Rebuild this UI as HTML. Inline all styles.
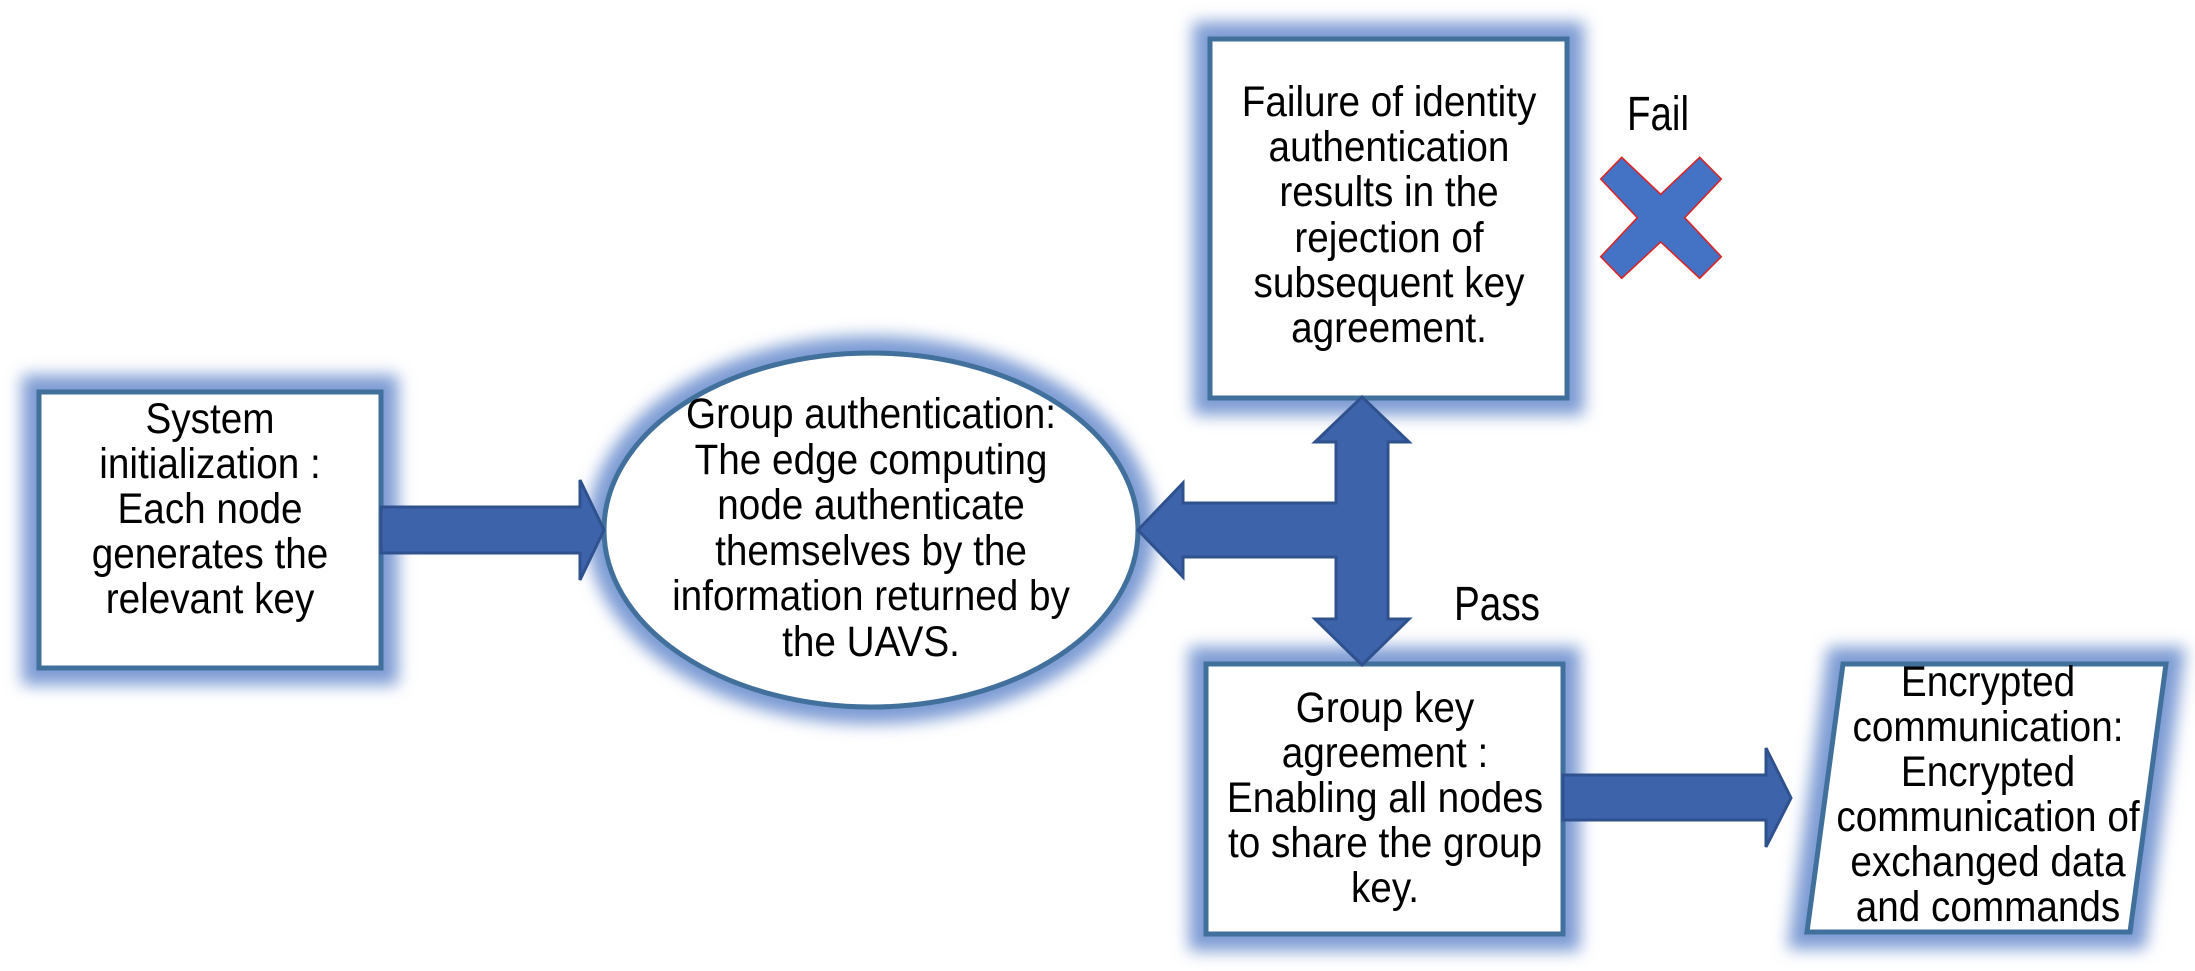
<!DOCTYPE html>
<html><head><meta charset="utf-8"><style>
html,body{margin:0;padding:0;background:#fff;}
svg{display:block;}
text{font-family:"Liberation Sans",sans-serif;font-size:43px;fill:#000;text-anchor:middle;}
</style></head><body>
<svg width="2195" height="971" viewBox="0 0 2195 971" xmlns="http://www.w3.org/2000/svg">
<defs>
<filter id="g" x="-20%" y="-20%" width="140%" height="140%"><feGaussianBlur stdDeviation="8"/></filter>
</defs>
<g filter="url(#g)" fill="none" stroke="#7d9bd4" stroke-width="34">
<rect x="39" y="392" width="342" height="276"/>
<ellipse cx="871" cy="530" rx="267" ry="177"/>
<rect x="1210" y="39" width="357" height="359"/>
<rect x="1206" y="664" width="357" height="270"/>
<polygon points="1843,664 2166,664 2130,932 1807,932"/>
</g>
<g fill="#fff" stroke="#41709c" stroke-width="5">
<rect x="39" y="392" width="342" height="276"/>
<ellipse cx="871" cy="530" rx="267" ry="177"/>
<rect x="1210" y="39" width="357" height="359"/>
<rect x="1206" y="664" width="357" height="270"/>
<polygon points="1843,664 2166,664 2130,932 1807,932"/>
</g>
<g fill="#3d63ab" stroke="#2f528f" stroke-width="3">
<polygon points="381,507 580,507 580,480 604,530 580,580 580,553 381,553"/>
<polygon points="1362,397 1409,442 1388,442 1388,619 1409,619 1362,665 1315,619 1336,619 1336,557 1183,557 1183,577 1138,530 1183,483 1183,503 1336,503 1336,442 1315,442"/>
<polygon points="1563,775 1766,775 1766,748 1791,798 1766,847 1766,820 1563,820"/>
</g>
<polygon points="1600.7,179 1621.7,157.3 1660.7,194.3 1699.7,157.3 1721.3,179 1684.7,217.7 1721.3,256.7 1699.7,278.3 1660.7,242 1621.7,278.3 1600.7,256.7 1637.3,217.7" fill="#4472c4" stroke="#e02020" stroke-width="1.5"/>
<text x="1658" y="130" style="font-size:48px" textLength="62" lengthAdjust="spacingAndGlyphs">Fail</text>
<text x="1497" y="620" style="font-size:48px" textLength="86" lengthAdjust="spacingAndGlyphs">Pass</text>
<g transform="translate(210,0) scale(0.9,1)">
<text x="0" y="433">System</text>
<text x="0" y="478">initialization :</text>
<text x="0" y="523">Each node</text>
<text x="0" y="568">generates the</text>
<text x="0" y="613">relevant key</text>
</g>
<g transform="translate(871,0) scale(0.9,1)">
<text x="0" y="428">Group authentication:</text>
<text x="0" y="474">The edge computing</text>
<text x="0" y="519">node authenticate</text>
<text x="0" y="565">themselves by the</text>
<text x="0" y="610">information returned by</text>
<text x="0" y="656">the UAVS.</text>
</g>
<g transform="translate(1389,0) scale(0.9,1)">
<text x="0" y="116">Failure of identity</text>
<text x="0" y="161">authentication</text>
<text x="0" y="206">results in the</text>
<text x="0" y="252">rejection of</text>
<text x="0" y="297">subsequent key</text>
<text x="0" y="342">agreement.</text>
</g>
<g transform="translate(1385,0) scale(0.9,1)">
<text x="0" y="722">Group key</text>
<text x="0" y="767">agreement :</text>
<text x="0" y="812">Enabling all nodes</text>
<text x="0" y="857">to share the group</text>
<text x="0" y="902">key.</text>
</g>
<g transform="translate(1988,0) scale(0.9,1)">
<text x="0" y="696">Encrypted</text>
<text x="0" y="741">communication:</text>
<text x="0" y="786">Encrypted</text>
<text x="0" y="831">communication of</text>
<text x="0" y="876">exchanged data</text>
<text x="0" y="921">and commands</text>
</g>
</svg>
</body></html>
